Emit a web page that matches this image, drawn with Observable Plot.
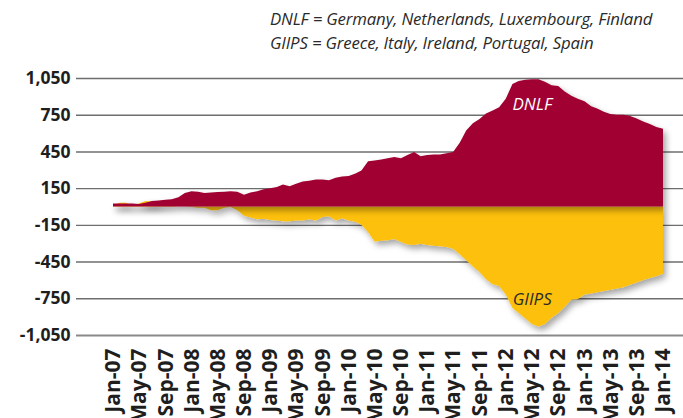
<!DOCTYPE html>
<html>
<head>
<meta charset="utf-8">
<script src="https://cdn.jsdelivr.net/npm/d3@7"></script>
<script src="https://cdn.jsdelivr.net/npm/@observablehq/plot@0.6"></script>
<style>
  body { margin: 0; background: #fff; }
  #wrap { position: relative; width: 683px; height: 418px; overflow: hidden; }
  #notes { position: absolute; left: 270px; top: 7px; font-family: "Open Sans", sans-serif; font-style: italic; font-size: 16.8px; line-height: 24px; color: #2a2a2a; letter-spacing: -0.15px; white-space: nowrap; }
</style>
</head>
<body>
<div id="wrap">
  <div id="chart"></div>
  <div id="notes">DNLF = Germany, Netherlands, Luxembourg, Finland<br>GIIPS = Greece, Italy, Ireland, Portugal, Spain</div>
</div>
<script>
// Monthly series, Jan-07 .. Jan-14
const startMonth = "Jan-07";
const dnlf = [25,25,25,25,20,30,45,50,55,60,
  75,110,125,120,110,115,118,120,125,120,
  95,115,125,140,150,160,180,165,185,205,
  210,220,220,215,235,245,250,270,295,370,
  375,385,395,405,395,420,445,410,420,425,
  425,435,445,520,620,680,715,760,785,810,
  880,1000,1025,1035,1040,1040,1020,990,985,940,
  905,880,860,820,800,775,755,750,750,740,
  720,695,675,650,635];
const giips = [10,30,30,10,25,45,40,20,10,5,
  0,0,-5,-10,-10,-30,-30,-10,-5,-30,
  -75,-90,-105,-100,-110,-115,-120,-120,-115,-115,
  -105,-115,-85,-80,-115,-95,-115,-125,-150,-210,
  -285,-280,-275,-265,-290,-310,-315,-305,-315,-320,
  -325,-330,-345,-390,-440,-490,-535,-595,-635,-650,
  -720,-830,-870,-915,-960,-980,-960,-910,-870,-820,
  -760,-755,-720,-710,-700,-690,-680,-670,-660,-640,
  -620,-600,-585,-570,-550];
const yTicks = [-1050,-750,-450,-150,150,450,750,1050];
const xTickLabels = ["Jan-07","May-07","Sep-07","Jan-08","May-08","Sep-08","Jan-09","May-09","Sep-09",
  "Jan-10","May-10","Sep-10","Jan-11","May-11","Sep-11","Jan-12","May-12","Sep-12","Jan-13","May-13","Sep-13","Jan-14"];
const seriesLabels = [
  {label: "DNLF", month: "May-12", value: 840, color: "#ffffff"},
  {label: "GIIPS", month: "May-12", value: -760, color: "#2a2a2a"}
];

const parse = d3.utcParse("%b-%y");
const fmtMonth = d3.utcFormat("%b-%y");
const t0 = parse(startMonth);
const rows = dnlf.map((v, i) => ({date: d3.utcMonth.offset(t0, i), dnlf: v, giips: giips[i]}));
const tickDates = xTickLabels.map(parse);
const labelRows = seriesLabels.map(d => ({...d, date: parse(d.month)}));

const first = rows[0].date.getTime(), last = rows[rows.length - 1].date.getTime();
const k = (last - first) / 550;
const xDomain = [new Date(first - 37 * k), new Date(last + 20 * k)];
const yFmt = d => (d < 0 ? "-" : "") + d3.format(",")(Math.abs(d));

const chart = Plot.plot({
  width: 683,
  height: 418,
  marginTop: 78,
  marginBottom: 83,
  marginLeft: 76,
  marginRight: 0,
  style: {fontFamily: "'Open Sans', sans-serif", background: "#fff"},
  x: {type: "utc", domain: xDomain},
  y: {domain: [-1050, 1050]},
  marks: [
    Plot.ruleY(yTicks.filter(d => d !== -1050), {stroke: "#6e6e6e", strokeWidth: 1.4}),
    Plot.ruleY([-1050], {stroke: "#8a8a8a", strokeWidth: 2.2}),
    Plot.areaY(rows, {x: "date", y: "giips", fill: "#fdc010"}),
    Plot.areaY(rows, {x: "date", y: "dnlf", fill: "#a10033"}),
    Plot.axisY(yTicks, {tickSize: 0, tickPadding: 6, tickFormat: yFmt, fontSize: 17.5, fontWeight: "bold", fill: "#1e1e1e", label: null}),
    Plot.axisX(tickDates, {tickSize: 0, tickPadding: 13, tickRotate: -90, tickFormat: fmtMonth, fontSize: 21, fontWeight: "bold", fill: "#1e1e1e", label: null}),
    Plot.text(labelRows, {x: "date", y: "value", text: "label", fill: "color", fontSize: 17, fontStyle: "italic"})
  ]
});

// drop shadow on the areas
const ns = "http://www.w3.org/2000/svg";
const defs = document.createElementNS(ns, "defs");
defs.innerHTML = '<filter id="shadow" x="-10%" y="-10%" width="130%" height="140%"><feDropShadow dx="3" dy="4" stdDeviation="3" flood-color="#000" flood-opacity="0.35"/></filter>';
chart.insertBefore(defs, chart.firstChild);
chart.querySelectorAll('g[aria-label="area"]').forEach(g => g.setAttribute("filter", "url(#shadow)"));

document.getElementById("chart").appendChild(chart);
</script>
</body>
</html>
